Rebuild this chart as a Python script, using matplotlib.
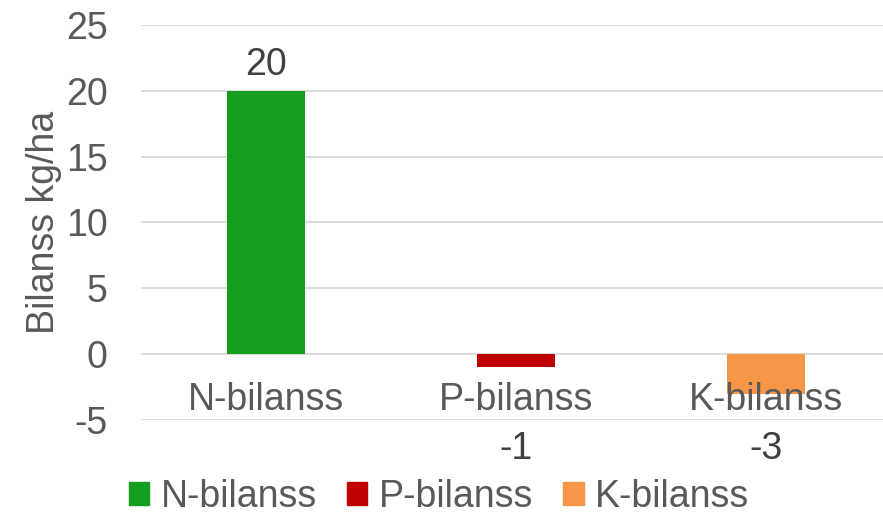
import matplotlib.pyplot as plt
import numpy as np

categories = ['N-bilanss', 'P-bilanss', 'K-bilanss']
values = [20, -1, -3]
colors = ['#139e1f', '#c00000', '#f79646']

plt.rcParams['font.family'] = ['Liberation Sans', 'DejaVu Sans']
plt.rcParams['axes.unicode_minus'] = False
txt = '#595959'
fs = 27

fig = plt.figure(figsize=(8.83, 5.15), dpi=100)
ax = fig.add_axes([141 / 883, 1 - 420 / 515, 750 / 883, 395 / 515])

x = np.arange(len(categories))
bars = ax.bar(x, values, width=0.31, color=colors, zorder=3)

ax.set_xlim(-0.5, 2.5)
ax.set_ylim(-5, 25)
ax.set_yticks(np.arange(-5, 26, 5))
ax.yaxis.grid(True, color='#d9d9d9', linewidth=1.3, zorder=0)
ax.set_xticks([])
ax.tick_params(axis='y', length=0, labelsize=fs, labelcolor=txt, pad=24)
for s in ax.spines.values():
    s.set_visible(False)
ax.set_ylabel('Bilanss kg/ha', fontsize=fs, color=txt, labelpad=3)

# category labels sit just under the zero line
for xi, c in zip(x, categories):
    ax.text(xi, -3.5, c, ha='center', va='center', fontsize=fs, color=txt, zorder=4)

# value labels
for xi, v in zip(x, values):
    if v >= 0:
        ax.annotate(str(v), (xi, v), xytext=(0, 6), textcoords='offset points',
                    ha='center', va='bottom', fontsize=fs, color='#404040')
    else:
        ax.text(xi, -7.2, str(v), ha='center', va='center', fontsize=fs,
                color='#404040', clip_on=False)

handles = [plt.Rectangle((0, 0), 1, 1, color=c) for c in colors]
fig.legend(handles, categories, loc='center', bbox_to_anchor=(0.497, 1 - 497 / 515),
           ncol=3, frameon=False, fontsize=fs, labelcolor=txt,
           handlelength=0.55, handleheight=0.55, handletextpad=0.3, columnspacing=0.8,
           borderpad=0)

fig.savefig('out.png', dpi=100)
